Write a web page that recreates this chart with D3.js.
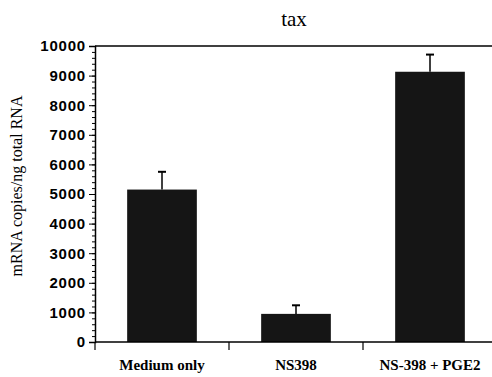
<!DOCTYPE html>
<html>
<head>
<meta charset="utf-8">
<script src="https://cdn.jsdelivr.net/npm/d3@7"></script>
<style>
  body { margin: 0; background: #fff; }
  svg { display: block; }
</style>
</head>
<body>
<div id="chart"></div>
<script>
// data
const categories = ['Medium only', 'NS398', 'NS-398 + PGE2'];
const means = [5150, 950, 9130];
const errors = [600, 290, 580];
const yTicks = [0, 1000, 2000, 3000, 4000, 5000, 6000, 7000, 8000, 9000, 10000];

const width = 492, height = 377;
const margin = { top: 46, right: 0, bottom: 33, left: 95 };
const innerW = width - margin.left - margin.right + 2;
const innerH = height - margin.top - margin.bottom - 2;

const svg = d3.select('#chart').append('svg')
  .attr('width', width)
  .attr('height', height);

svg.append('text')
  .attr('x', 294)
  .attr('y', 26)
  .attr('text-anchor', 'middle')
  .style('font-family', '"Liberation Serif", "Times New Roman", serif')
  .style('font-size', '21px')
  .text('tax');

const g = svg.append('g')
  .attr('transform', `translate(${margin.left}, ${margin.top})`);

const x = d3.scaleBand()
  .domain(categories)
  .range([0, 134 * 3])
  .paddingInner(0.48)
  .paddingOuter(0.24);

const y = d3.scaleLinear()
  .domain([0, 10000])
  .range([innerH, 0]);

// top frame line
g.append('line')
  .attr('x1', 0).attr('x2', innerW)
  .attr('y1', y(10000)).attr('y2', y(10000))
  .attr('stroke', '#000')
  .attr('stroke-width', 1.5);

// bars
g.selectAll('.bar')
  .data(categories)
  .enter()
  .append('rect')
  .attr('class', 'bar')
  .attr('x', d => x(d))
  .attr('y', (d, i) => y(means[i]))
  .attr('width', x.bandwidth())
  .attr('height', (d, i) => innerH - y(means[i]))
  .attr('fill', '#151515');

// error bars
const err = g.selectAll('.err')
  .data(categories)
  .enter()
  .append('g')
  .attr('class', 'err');

err.append('line')
  .attr('x1', d => x(d) + x.bandwidth() / 2)
  .attr('x2', d => x(d) + x.bandwidth() / 2)
  .attr('y1', (d, i) => y(means[i]))
  .attr('y2', (d, i) => y(means[i] + errors[i]))
  .attr('stroke', '#000')
  .attr('stroke-width', 1.5);

err.append('line')
  .attr('x1', d => x(d) + x.bandwidth() / 2 - 4)
  .attr('x2', d => x(d) + x.bandwidth() / 2 + 4)
  .attr('y1', (d, i) => y(means[i] + errors[i]))
  .attr('y2', (d, i) => y(means[i] + errors[i]))
  .attr('stroke', '#000')
  .attr('stroke-width', 2);

// minor ticks on y
g.append('g')
  .attr('class', 'axis y-minor')
  .call(d3.axisLeft(y).ticks(50).tickSize(3).tickFormat(''))
  .call(a => a.select('.domain').remove());

// y axis
g.append('g')
  .attr('class', 'axis y-axis')
  .call(d3.axisLeft(y).tickValues(yTicks).tickSize(6).tickPadding(3).tickFormat(d3.format('d')))
  .call(a => a.select('.domain').attr('stroke-width', 1.5))
  .call(a => a.selectAll('text')
    .style('font-family', '"Liberation Sans", Arial, sans-serif')
    .style('font-size', '15px')
    .style('font-weight', 'bold')
    .style('letter-spacing', '0.8px')
    .style('fill', '#000'));

// x axis
const xAxisG = g.append('g')
  .attr('class', 'axis x-axis')
  .attr('transform', `translate(0, ${innerH})`);

xAxisG.append('line')
  .attr('x1', 0).attr('x2', innerW)
  .attr('stroke', '#000')
  .attr('stroke-width', 1.5);

xAxisG.selectAll('.sep')
  .data(categories)
  .enter()
  .append('line')
  .attr('class', 'sep')
  .attr('x1', d => x(d) - x.step() * x.paddingOuter())
  .attr('x2', d => x(d) - x.step() * x.paddingOuter())
  .attr('y1', 0).attr('y2', 8)
  .attr('stroke', '#000')
  .attr('stroke-width', 1.2);

xAxisG.selectAll('.lbl')
  .data(categories)
  .enter()
  .append('text')
  .attr('class', 'lbl')
  .attr('x', d => x(d) + x.bandwidth() / 2)
  .attr('y', 28)
  .attr('text-anchor', 'middle')
  .style('font-family', '"Liberation Serif", "Times New Roman", serif')
  .style('font-weight', 'bold')
  .style('font-size', '15px')
  .text(d => d);

svg.append('text')
  .attr('transform', 'translate(22, 186) rotate(-90)')
  .attr('text-anchor', 'middle')
  .style('font-family', '"Liberation Serif", "Times New Roman", serif')
  .style('font-size', '16px')
  .text('mRNA copies/ng total RNA');
</script>
</body>
</html>
